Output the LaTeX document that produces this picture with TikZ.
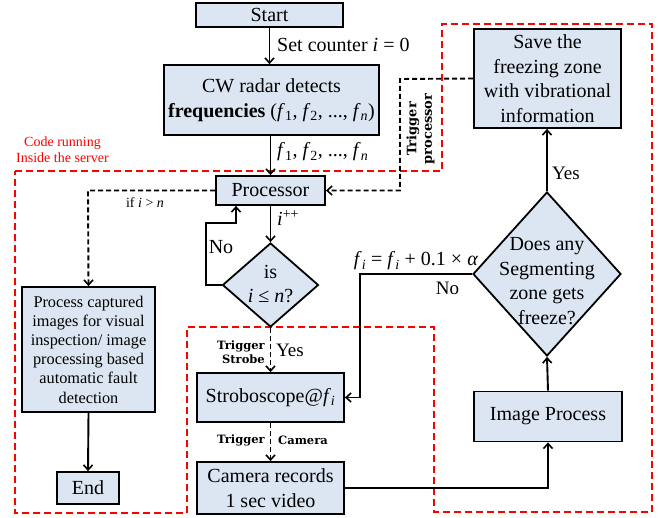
\documentclass[tikz,border=0pt]{standalone}
\usepackage{fontspec}
\setmainfont{Liberation Serif}
\newfontfamily\labfont{DejaVu Serif}
\usetikzlibrary{arrows.meta,shapes.geometric}
\definecolor{boxfill}{RGB}{220,230,242}
\newcommand\mfs{\fontsize{20}{24.5}\selectfont}
\newcommand\sfs{\fontsize{16.3}{19.2}\selectfont}
\newcommand\bfs{\labfont\bfseries\fontsize{11.5}{13.5}\selectfont}
\newcommand\vsub[2]{\textit{#1}\textsubscript{#2}}
\begin{document}
\begin{tikzpicture}[x=1pt,y=-1pt,
  box/.style={draw=black, line width=1.8pt, fill=boxfill, inner sep=0pt, align=center, font=\mfs},
  dia/.style={draw=black, line width=1.8pt, fill=boxfill, diamond, inner sep=0pt},
  txt/.style={inner sep=0pt, align=center, font=\mfs},
  blab/.style={inner sep=0pt, font=\bfs},
  conn/.style={line width=1.9pt, -{Straight Barb[length=5pt,width=9pt,line width=1.6pt]}},
  dconn/.style={conn, dash pattern=on 5pt off 3pt},
  redline/.style={red, line width=1.8pt, dash pattern=on 7pt off 4pt}
]
\useasboundingbox (0,0) rectangle (670,518);

% red outline of the server region
\draw[redline] (15,171) -- (442,171) -- (442,24) -- (652,24) -- (652,512) -- (434,512) -- (434,327) -- (187,327) -- (187,513) -- (15,513) -- cycle;
\node[txt, font=\fontsize{14}{16}\selectfont, text=red] (server) at (62.5,150) {Code running\\Inside the server};

% boxes
\node[box, minimum width=147pt, minimum height=24pt] (start) at (269.5,15) {Start};
\node[box, minimum width=215pt, minimum height=70pt] (cw) at (271.5,100) {CW radar detects\\\textbf{frequencies} (\vsub{f}{1}, \vsub{f}{2}, ..., \vsub{f}{\textit{n}})};
\node[box, minimum width=109pt, minimum height=29pt] (proc) at (270.5,190.5) {Processor};
\node[box, minimum width=133pt, minimum height=125pt, font=\sfs] (pcap) at (88.5,349.5) {Process captured\\images for visual\\inspection/ image\\processing based\\automatic fault\\detection};
\node[box, minimum width=62pt, minimum height=32pt] (end) at (88,488) {End};
\node[dia, minimum width=96pt, minimum height=84pt] (d1) at (270.5,285) {};
\node[txt] (d1t) at (270.5,284) {is\\\textit{i} ≤ \textit{n}?};
\node[box, minimum width=147pt, minimum height=49pt] (strobe) at (270.5,397.5) {Stroboscope@\vsub{f}{\textit{i}}};
\node[box, minimum width=147pt, minimum height=52pt] (cam) at (270.5,488) {Camera records\\1 sec video};
\node[box, minimum width=148pt, minimum height=50pt] (imgp) at (548,416.5) {Image Process};
\node[dia, minimum width=148pt, minimum height=164pt] (d2) at (547,274) {};
\node[txt] (d2t) at (547,281) {Does any\\Segmenting\\zone gets\\freeze?};
\node[box, minimum width=147pt, minimum height=99pt] (save) at (547.5,78.5) {Save the\\freezing zone\\with vibrational\\information};

% connectors
\draw[conn] (start.south) -- (cw.north -| start.south);
\node[txt, anchor=west] (lset) at (277,45) {Set counter \textit{i} = 0};
\draw[conn] (proc.north |- cw.south) -- (proc.north);
\node[txt, anchor=west] (lf) at (277,152) {\vsub{f}{1}, \vsub{f}{2}, ..., \vsub{f}{\textit{n}}};

\coordinate (c1) at (88,190.5);
\draw[dconn] (proc.west) -- (c1) -- (pcap.north);
\node[txt, font=\fontsize{14}{16}\selectfont] (lif) at (145,203) {if \textit{i} > \textit{n}};
\draw[conn] (pcap.south) -- (end.north);

\draw[conn] (proc.south) -- (d1.north);
\node[txt, anchor=west] (linc) at (277,218) {\textit{i}\textsuperscript{++}};
\coordinate (n1) at (206,285);
\coordinate (n2) at (206,223);
\coordinate (n3) at (236,223);
\draw[conn] (d1.west) -- (n1) -- (n2) -- (n3) -- (n3 |- proc.south);
\node[txt] (lno1) at (221,247) {No};

\draw[dconn] (d1.south) -- (strobe.north);
\node[blab, anchor=east, align=right] (ltrs) at (265,352) {Trigger\\Strobe};
\node[txt, font=\fontsize{19}{22}\selectfont] (lyes1) at (290,350) {Yes};

\draw[dconn] (strobe.south) -- (cam.north);
\node[blab, anchor=east] (ltrc) at (265,440.5) {Trigger};
\node[blab, anchor=west] (lcam) at (278,440.5) {Camera};

\coordinate (k1) at (548,488);
\draw[conn] (cam.east) -- (k1) -- (imgp.south);
\draw[conn] (imgp.north) -- (d2.south);
\draw[conn] (d2.north) -- (save.south -| d2.north);
\node[txt, font=\fontsize{19}{22}\selectfont] (lyes2) at (566,173) {Yes};

\coordinate (m1) at (360,274);
\draw[conn] (d2.west) -- (m1) -- (m1 |- strobe.east) -- (strobe.east);
\node[txt] (leq) at (416,261) {\vsub{f}{\textit{i}} = \vsub{f}{\textit{i}} + 0.1 × \textit{α}};
\node[txt, font=\fontsize{19}{22}\selectfont] (lno2) at (447.5,288) {No};

\coordinate (p1) at (400,79);
\draw[dconn] (save.west) -- (p1) -- (p1 |- proc.east) -- (proc.east);
\node[blab, font=\labfont\bfseries\fontsize{13}{15.5}\selectfont, rotate=90, align=center] (ltrp) at (420.5,129) {Trigger\\processor};
\end{tikzpicture}
\end{document}
